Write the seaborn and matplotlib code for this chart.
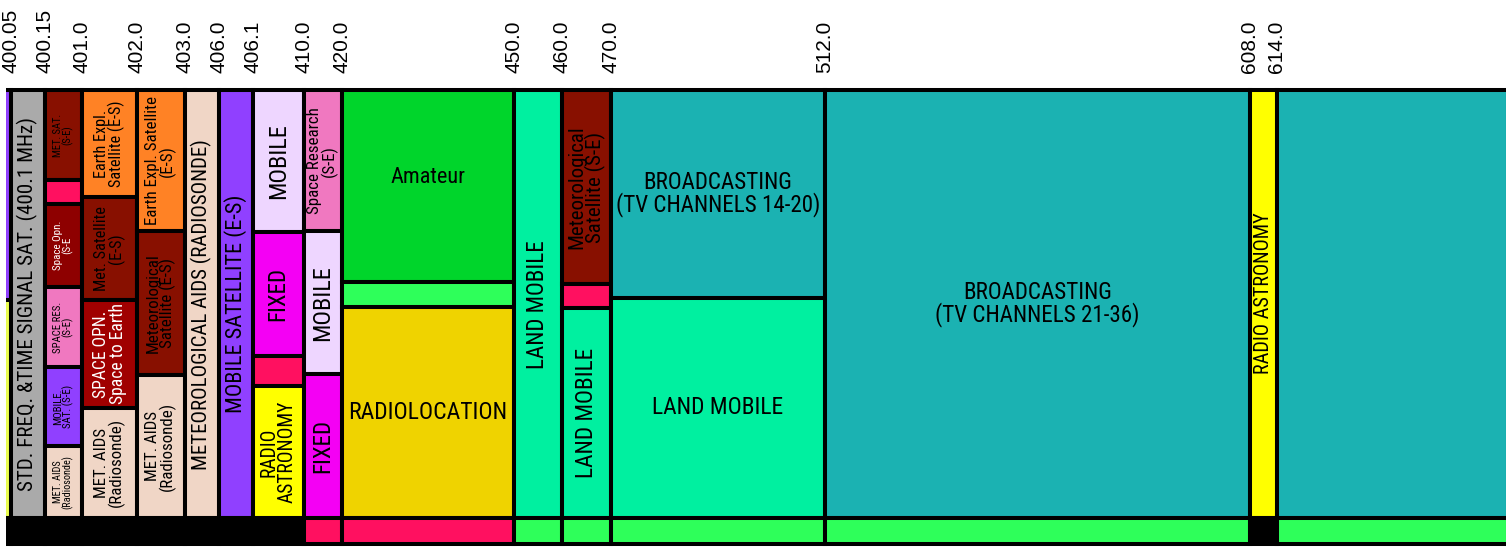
import re
import numpy as np
import matplotlib
matplotlib.use("Agg")
import matplotlib.pyplot as plt
import seaborn as sns
from matplotlib import font_manager
from matplotlib.font_manager import FontProperties
from matplotlib.textpath import TextPath

# ------------------------------------------------------------------ data
edge_labels = ["400.05", "400.15", "401.0", "402.0", "403.0", "406.0", "406.1",
               "410.0", "420.0", "450.0", "460.0", "470.0", "512.0", "608.0", "614.0"]
chart_start_mhz = 399.9
chart_end_mhz = 698.0

# allocation cells: band limits (MHz) and their share of the column (0 = top, 1 = bottom)
cell_lo = [399.9, 399.9, 400.05,
           400.15, 400.15, 400.15, 400.15, 400.15, 400.15,
           401.0, 401.0, 401.0, 401.0,
           402.0, 402.0, 402.0,
           403.0, 406.0,
           406.1, 406.1, 406.1, 406.1,
           410.0, 410.0, 410.0,
           420.0, 420.0, 420.0,
           450.0,
           460.0, 460.0, 460.0,
           470.0, 470.0,
           512.0, 608.0, 614.0]
cell_hi = [400.05, 400.05, 400.15,
           401.0, 401.0, 401.0, 401.0, 401.0, 401.0,
           402.0, 402.0, 402.0, 402.0,
           403.0, 403.0, 403.0,
           406.0, 406.1,
           410.0, 410.0, 410.0, 410.0,
           420.0, 420.0, 420.0,
           450.0, 450.0, 450.0,
           460.0,
           470.0, 470.0, 470.0,
           512.0, 512.0,
           608.0, 614.0, 698.0]
cell_top = [0.0, 0.490, 0.0,
            0.0, 0.210, 0.267, 0.460, 0.648, 0.831,
            0.0, 0.2495, 0.491, 0.742,
            0.0, 0.329, 0.665,
            0.0, 0.0,
            0.0, 0.331, 0.622, 0.691,
            0.0, 0.330, 0.664,
            0.0, 0.449, 0.507,
            0.0,
            0.0, 0.452, 0.509,
            0.0, 0.485,
            0.0, 0.0, 0.0]
cell_bot = [0.490, 1.0, 1.0,
            0.210, 0.267, 0.460, 0.648, 0.831, 1.0,
            0.2495, 0.491, 0.742, 1.0,
            0.329, 0.665, 1.0,
            1.0, 1.0,
            0.331, 0.622, 0.691, 1.0,
            0.330, 0.664, 1.0,
            0.449, 0.507, 1.0,
            1.0,
            0.452, 0.509, 1.0,
            0.485, 1.0,
            1.0, 1.0, 1.0]
cell_service = ["mobile_sat", "radionav_sat", "std_freq",
                "met_sat", "secondary", "space_opn", "space_res", "mobile_sat", "met_aids",
                "earth_expl", "met_sat", "space_opn2", "met_aids",
                "earth_expl", "met_sat", "met_aids",
                "met_aids", "mobile_sat",
                "mobile", "fixed", "secondary", "radio_astro",
                "space_res", "mobile", "fixed",
                "amateur", "light_green", "radiolocation",
                "land_mobile",
                "met_sat", "secondary", "land_mobile",
                "broadcasting", "land_mobile",
                "broadcasting", "radio_astro", "broadcasting"]
cell_label = ["", "", "STD. FREQ. &TIME SIGNAL SAT. (400.1 MHz)",
              "MET. SAT.\n(S-E)", "", "Space Opn.\n(S-E", "SPACE RES.\n(S-E)",
              "MOBILE.\nSAT. (S-E)", "MET. AIDS\n(Radiosonde)",
              "Earth Expl.\nSatellite (E-S)", "Met. Satellite\n(E-S)",
              "SPACE OPN.\nSpace to Earth", "MET. AIDS\n(Radiosonde)",
              "Earth Expl. Satellite\n(E-S)", "Meteorological\nSatellite (E-S)",
              "MET. AIDS\n(Radiosonde)",
              "METEOROLOGICAL AIDS (RADIOSONDE)", "MOBILE SATELLITE (E-S)",
              "MOBILE", "FIXED", "", "RADIO\nASTRONOMY",
              "Space Research\n(S-E)", "MOBILE", "FIXED",
              "Amateur", "", "RADIOLOCATION",
              "LAND MOBILE",
              "Meteorological\nSatellite (S-E)", "", "LAND MOBILE",
              "BROADCASTING\n(TV CHANNELS 14-20)", "LAND MOBILE",
              "BROADCASTING\n(TV CHANNELS 21-36)", "RADIO ASTRONOMY", ""]

# bottom strip, one entry per band column
strip_lo = [399.9, 400.05, 400.15, 401.0, 402.0, 403.0, 406.0, 406.1,
            410.0, 420.0, 450.0, 460.0, 470.0, 512.0, 608.0, 614.0]
strip_hi = [400.05, 400.15, 401.0, 402.0, 403.0, 406.0, 406.1, 410.0,
            420.0, 450.0, 460.0, 470.0, 512.0, 608.0, 614.0, 698.0]
strip_service = ["none", "none", "none", "none", "none", "none", "none", "none",
                 "red", "red", "green", "green", "green", "green", "none", "green"]

# ------------------------------------------------------------------ styles / layout
service_colors = {
    "mobile_sat": "#9040FF", "radionav_sat": "#ECFF50", "std_freq": "#AAAAAA",
    "met_sat": "#881000", "secondary": "#FF1060", "space_opn": "#8E0000",
    "space_opn2": "#A00000", "space_res": "#F078C0", "met_aids": "#F0D6C6",
    "earth_expl": "#FF8225", "mobile": "#EED6FF", "fixed": "#F400F4",
    "radio_astro": "#FFFF00", "amateur": "#00D52B", "light_green": "#2EFF5A",
    "radiolocation": "#EFD300", "land_mobile": "#00F0A0", "broadcasting": "#1BB2B2",
    "none": "#000000", "red": "#FF1060", "green": "#2EFF5A",
}
white_text = {"space_opn", "space_opn2"}

# font sizes as they would be in a narrow (82 % width) Helvetica-like face
label_size = [0, 0, 15.6,
              7.8, 0, 8.2, 8.0, 8.0, 7.6,
              12, 12, 13, 12.5,
              12.5, 12.5, 12.5,
              15.5, 16.5,
              18, 17, 0, 14.5,
              12.5, 18, 17,
              16.5, 0, 17.5,
              17.0,
              15.5, 0, 17.2,
              17.0, 17.4,
              17.0, 15.0, 0]
# label orientation per cell (degrees)
label_rotation = [90, 90, 90,
                  90, 90, 90, 90, 90, 90,
                  90, 90, 90, 90,
                  90, 90, 90,
                  90, 90,
                  90, 90, 90, 90,
                  90, 90, 90,
                  0, 0, 0,
                  90,
                  90, 90, 90,
                  0, 0,
                  0, 90, 0]
# vertical nudge of a few labels (share of column height)
label_shift = [0.0] * len(cell_label)
label_shift[25] = -0.02   # Amateur
label_shift[35] = -0.025  # RADIO ASTRONOMY (608-614)

# display position (pixels) of every band edge along the chart (piecewise scale)
scale_mhz = [chart_start_mhz] + [float(s) for s in edge_labels] + [chart_end_mhz]
scale_pos = [4.0, 10.8, 44.7, 82.0, 137.0, 184.7, 219.2, 252.8, 303.7, 341.7,
             513.8, 562.0, 611.0, 824.7, 1250.0, 1277.0, 1508.0]
view_left, view_right = 6.0, 1505.5
fig_w, fig_h = 1509, 547


def fwd(f):
    return np.interp(f, scale_mhz, scale_pos)


def inv(p):
    return np.interp(p, scale_pos, scale_mhz)


strip_depth = 0.060

sns.set_theme(style="white")
plt.rcParams["font.family"] = ["Liberation Sans", "DejaVu Sans"]


# ---- find a condensed sans face for the cell labels
def pick_condensed():
    bad = re.compile(r"(Bold|Italic|Oblique|Light|Thin|Black|Medium|SemiBold|"
                     r"ExtraBold|ExtraLight|Mono|Serif|Display|CJK)", re.I)
    good = re.compile(r"(Narrow|Condensed)", re.I)
    prefs = ["LiberationSansNarrow", "RobotoCondensed", "Roboto_Condensed",
             "NotoSans-Condensed", "OpenSans_Condensed", "OpenSansCondensed",
             "DejaVuSansCondensed", "Condensed", "Narrow"]
    files = [fe.fname for fe in font_manager.fontManager.ttflist]
    files = [f for f in files if good.search(f.split("/")[-1])
             and not bad.search(f.split("/")[-1].replace("Condensed", ""))]
    for p in prefs:
        for f in files:
            if p.lower() in f.split("/")[-1].lower():
                return FontProperties(fname=f)
    return FontProperties(family="Liberation Sans")


cond_fp = pick_condensed()
ref_fp = FontProperties(family="Liberation Sans")
sample = "MOBILE SATELLITE Meteorological (RADIOSONDE)"


def text_width(fp):
    return TextPath((0, 0), sample, size=10, prop=fp).get_extents().width


size_factor = 0.82 * text_width(ref_fp) / text_width(cond_fp)

fig = plt.figure(figsize=(fig_w / 100, fig_h / 100), dpi=100)
ax_top_px = 85.17
ax = fig.add_axes([view_left / fig_w, 0.0,
                   (view_right - view_left) / fig_w, 1 - ax_top_px / fig_h])
ax.set_xscale("function", functions=(fwd, inv))
ax.set_xlim(inv(view_left), inv(view_right))
ax.set_ylim(1.0678, -0.012)
ax.set_facecolor("white")

lw = 2.9
for lo, hi, top, bot, svc in zip(cell_lo, cell_hi, cell_top, cell_bot, cell_service):
    ax.bar(lo, bot - top, width=hi - lo, bottom=top, align="edge",
           color=service_colors[svc], edgecolor="black", linewidth=lw, zorder=2)

for lo, hi, svc in zip(strip_lo, strip_hi, strip_service):
    ax.bar(lo, strip_depth, width=hi - lo, bottom=1.0, align="edge",
           color=service_colors[svc], edgecolor="black", linewidth=lw, zorder=2)

for lo, hi, top, bot, svc, lab, fs, rot, dy in zip(
        cell_lo, cell_hi, cell_top, cell_bot, cell_service, cell_label,
        label_size, label_rotation, label_shift):
    if not lab:
        continue
    xc = inv((fwd(lo) + fwd(hi)) / 2.0)
    yc = (top + bot) / 2.0 + dy
    fp = cond_fp.copy()
    fp.set_size(fs * size_factor)
    ax.text(xc, yc, lab, rotation=rot, ha="center", va="center",
            multialignment="center", fontproperties=fp, linespacing=0.9,
            color="white" if svc in white_text else "black", zorder=3)

ax.xaxis.tick_top()
ax.set_xticks([float(s) for s in edge_labels])
ax.set_xticklabels(edge_labels, rotation=90, fontsize=15,
                   family=["Liberation Sans", "DejaVu Sans"])
ax.tick_params(axis="x", length=0, pad=8.6, colors="black")
ax.set_yticks([])
ax.xaxis.set_minor_locator(matplotlib.ticker.NullLocator())
for sp in ax.spines.values():
    sp.set_visible(False)

fig.savefig("out.png", dpi=100, facecolor="white")
